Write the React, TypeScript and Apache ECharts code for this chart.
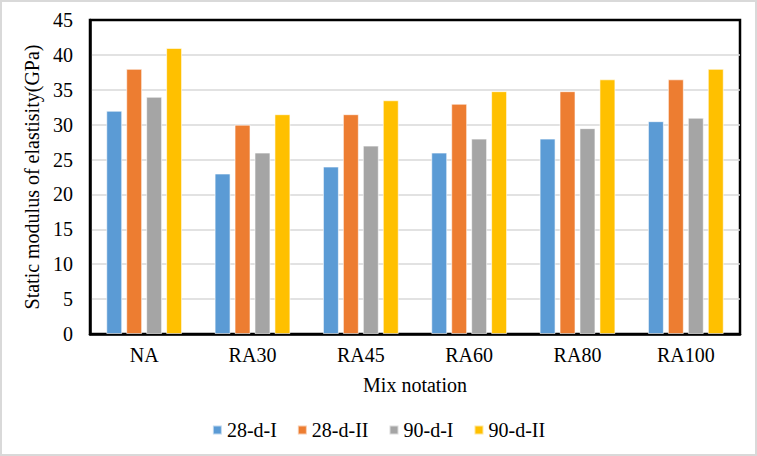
import React, { useEffect, useRef } from "react";
import * as echarts from "echarts";

const categories = ["NA", "RA30", "RA45", "RA60", "RA80", "RA100"];
const seriesNames = ["28-d-I", "28-d-II", "90-d-I", "90-d-II"];
const d28I = [32, 23, 24, 26, 28, 30.5];
const d28II = [38, 30, 31.5, 33, 34.8, 36.5];
const d90I = [34, 26, 27, 28, 29.5, 31];
const d90II = [41, 31.5, 33.5, 34.8, 36.5, 38];
const colors = ["#5B9BD5", "#ED7D31", "#A5A5A5", "#FFC000"];

export default function App() {
  const ref = useRef<HTMLDivElement>(null);
  useEffect(() => {
    if (!ref.current) return;
    const chart = echarts.init(ref.current, null, { renderer: "svg" });
    const font = "Liberation Serif, Times New Roman, serif";
    const fs = 20;
    const data = [d28I, d28II, d90I, d90II];
    chart.setOption({
      animation: false,
      textStyle: { fontFamily: font },
      grid: {
        left: 90,
        right: 17,
        top: 20,
        bottom: 122,
        show: true,
        borderColor: "#000",
        borderWidth: 2.5,
        backgroundColor: "transparent",
      },
      legend: {
        bottom: 11,
        left: "center",
        itemWidth: 9,
        itemHeight: 9,
        itemGap: 20,
        icon: "rect",
        textStyle: { fontFamily: font, fontSize: fs, color: "#000" },
        data: seriesNames,
      },
      xAxis: {
        type: "category",
        data: categories,
        name: "Mix notation",
        nameLocation: "middle",
        nameGap: 41,
        nameTextStyle: { fontFamily: font, fontSize: fs, color: "#000" },
        axisLine: { show: true, lineStyle: { color: "#000", width: 2.5 } },
        axisTick: { show: false },
        axisLabel: { fontFamily: font, fontSize: fs, color: "#000", margin: 11 },
      },
      yAxis: {
        type: "value",
        min: 0,
        max: 45,
        interval: 5,
        name: "Static modulus of elastisity(GPa)",
        nameLocation: "middle",
        nameGap: 47,
        nameTextStyle: { fontFamily: font, fontSize: fs, color: "#000" },
        axisLine: { show: true, lineStyle: { color: "#000", width: 2.5 } },
        axisTick: { show: false },
        axisLabel: { fontFamily: font, fontSize: fs, color: "#000", margin: 17 },
        splitLine: {
          show: true,
          showMaxLine: false,
          showMinLine: false,
          lineStyle: { color: "#D9D9D9", width: 1.5 },
        },
      },
      series: seriesNames.map((name, i) => ({
        name,
        type: "bar",
        data: data[i],
        barGap: "25%",
        barCategoryGap: "30%",
        itemStyle: { color: colors[i], borderColor: "rgba(255,255,255,0.6)", borderWidth: 1 },
      })),
    });
    return () => chart.dispose();
  }, []);
  return (
    <div
      style={{
        position: "fixed",
        left: 0,
        top: 0,
        width: 757,
        height: 456,
        boxSizing: "border-box",
        border: "2px solid #D9D9D9",
        background: "#fff",
      }}
    >
      <div ref={ref} style={{ position: "absolute", left: -2, top: -2, width: 757, height: 456 }} />
    </div>
  );
}
